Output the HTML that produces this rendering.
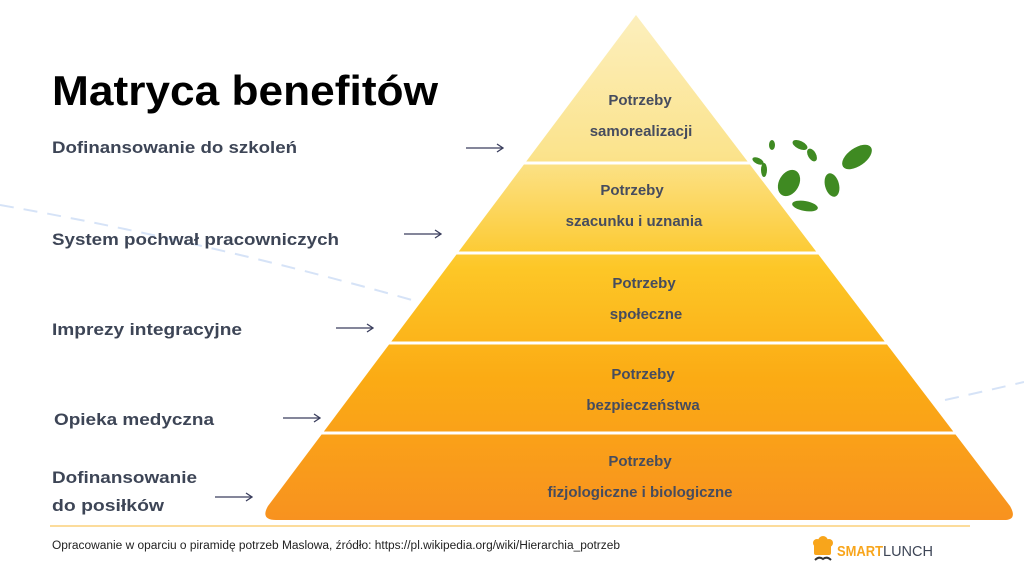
<!DOCTYPE html>
<html><head><meta charset="utf-8"><style>
html,body{margin:0;padding:0;background:#fff}
svg{display:block}
text{font-family:"Liberation Sans",sans-serif}
</style></head><body>
<svg width="1024" height="576" viewBox="0 0 1024 576" xmlns="http://www.w3.org/2000/svg">
<defs>
<linearGradient id="g" x1="0" y1="15" x2="0" y2="520" gradientUnits="userSpaceOnUse">
<stop offset="0" stop-color="#fcefbd"/>
<stop offset="0.28" stop-color="#fbe38c"/>
<stop offset="0.5" stop-color="#fdc727"/>
<stop offset="0.72" stop-color="#fbab14"/>
<stop offset="1" stop-color="#f8921f"/>
</linearGradient>
<marker id="ar" markerWidth="10" markerHeight="10" refX="9" refY="5" orient="auto" markerUnits="userSpaceOnUse">
<path d="M3,1 L9,5 L3,9" fill="none" stroke="#3b3f5e" stroke-width="1.3"/>
</marker>
</defs>
<!-- dashed bg curves -->
<path d="M0,205 Q200,240 412,300" fill="none" stroke="#d6e3f7" stroke-width="2" stroke-dasharray="14,10"/>
<path d="M945,400 Q990,390 1024,382" fill="none" stroke="#d6e3f7" stroke-width="2" stroke-dasharray="14,10"/>
<!-- pyramid -->
<path d="M636,15 L1010,506 Q1018,520 1004,520 L276,520 Q260,520 268,506 Z" fill="url(#g)"/>
<g stroke="#fff" stroke-width="3">
<line x1="500" y1="163" x2="780" y2="163"/>
<line x1="430" y1="253" x2="850" y2="253"/>
<line x1="360" y1="343" x2="920" y2="343"/>
<line x1="300" y1="433" x2="980" y2="433"/>
</g>
<!-- leaves -->
<g fill="#3f8a22">
<ellipse cx="857" cy="157" rx="17" ry="9" transform="rotate(-35 857 157)"/>
<ellipse cx="789" cy="183" rx="10" ry="14" transform="rotate(30 789 183)"/>
<ellipse cx="832" cy="185" rx="7" ry="12" transform="rotate(-15 832 185)"/>
<ellipse cx="805" cy="206" rx="13" ry="5" transform="rotate(10 805 206)"/>
<ellipse cx="800" cy="145" rx="8" ry="4" transform="rotate(25 800 145)"/>
<ellipse cx="812" cy="155" rx="4" ry="7" transform="rotate(-30 812 155)"/>
<ellipse cx="772" cy="145" rx="3" ry="5"/>
<ellipse cx="758" cy="161" rx="6" ry="3" transform="rotate(25 758 161)"/>
<ellipse cx="764" cy="170" rx="3" ry="7"/>
</g>
<!-- title -->
<text x="52" y="105" font-size="42" font-weight="bold" fill="#000" textLength="386" lengthAdjust="spacingAndGlyphs">Matryca benefitów</text>
<!-- left labels -->
<g font-size="17" font-weight="bold" fill="#3d4556">
<text x="52" y="153" textLength="245" lengthAdjust="spacingAndGlyphs">Dofinansowanie do szkoleń</text>
<text x="52" y="245" textLength="287" lengthAdjust="spacingAndGlyphs">System pochwał pracowniczych</text>
<text x="52" y="335" textLength="190" lengthAdjust="spacingAndGlyphs">Imprezy integracyjne</text>
<text x="54" y="425" textLength="160" lengthAdjust="spacingAndGlyphs">Opieka medyczna</text>
<text x="52" y="483" textLength="145" lengthAdjust="spacingAndGlyphs">Dofinansowanie</text>
<text x="52" y="511" textLength="112" lengthAdjust="spacingAndGlyphs">do posiłków</text>
</g>
<!-- arrows -->
<g stroke="#3b3f5e" stroke-width="1.3" marker-end="url(#ar)">
<line x1="466" y1="148" x2="503" y2="148"/>
<line x1="404" y1="234" x2="441" y2="234"/>
<line x1="336" y1="328" x2="373" y2="328"/>
<line x1="283" y1="418" x2="320" y2="418"/>
<line x1="215" y1="497" x2="252" y2="497"/>
</g>
<!-- pyramid labels -->
<g font-size="15" font-weight="bold" fill="#464c5e" text-anchor="middle">
<text x="640" y="105">Potrzeby</text>
<text x="641" y="136">samorealizacji</text>
<text x="632" y="195">Potrzeby</text>
<text x="634" y="226">szacunku i uznania</text>
<text x="644" y="288">Potrzeby</text>
<text x="646" y="319">społeczne</text>
<text x="643" y="379">Potrzeby</text>
<text x="643" y="410">bezpieczeństwa</text>
<text x="640" y="466">Potrzeby</text>
<text x="640" y="497">fizjologiczne i biologiczne</text>
</g>
<!-- footer -->
<line x1="50" y1="526" x2="970" y2="526" stroke="#fcd07a" stroke-width="1.5"/>
<text x="52" y="549" font-size="11.5" fill="#222" textLength="568" lengthAdjust="spacingAndGlyphs">Opracowanie w oparciu o piramidę potrzeb Maslowa, źródło:  https://pl.wikipedia.org/wiki/Hierarchia_potrzeb</text>
<!-- logo -->
<g fill="#f8a51b">
<circle cx="817" cy="543" r="4"/><circle cx="823" cy="541" r="5"/><circle cx="829" cy="543" r="4"/>
<rect x="814" y="544" width="17" height="11" rx="2"/>
</g>
<path d="M815,560 Q819,556 823,559 Q827,556 831,560" fill="none" stroke="#333" stroke-width="2"/>
<text x="837" y="556" font-size="15" font-weight="bold" fill="#f8a51b" textLength="46" lengthAdjust="spacingAndGlyphs">SMART</text>
<text x="883" y="556" font-size="15" fill="#3d4556" textLength="50" lengthAdjust="spacingAndGlyphs">LUNCH</text>
</svg>
</body></html>
